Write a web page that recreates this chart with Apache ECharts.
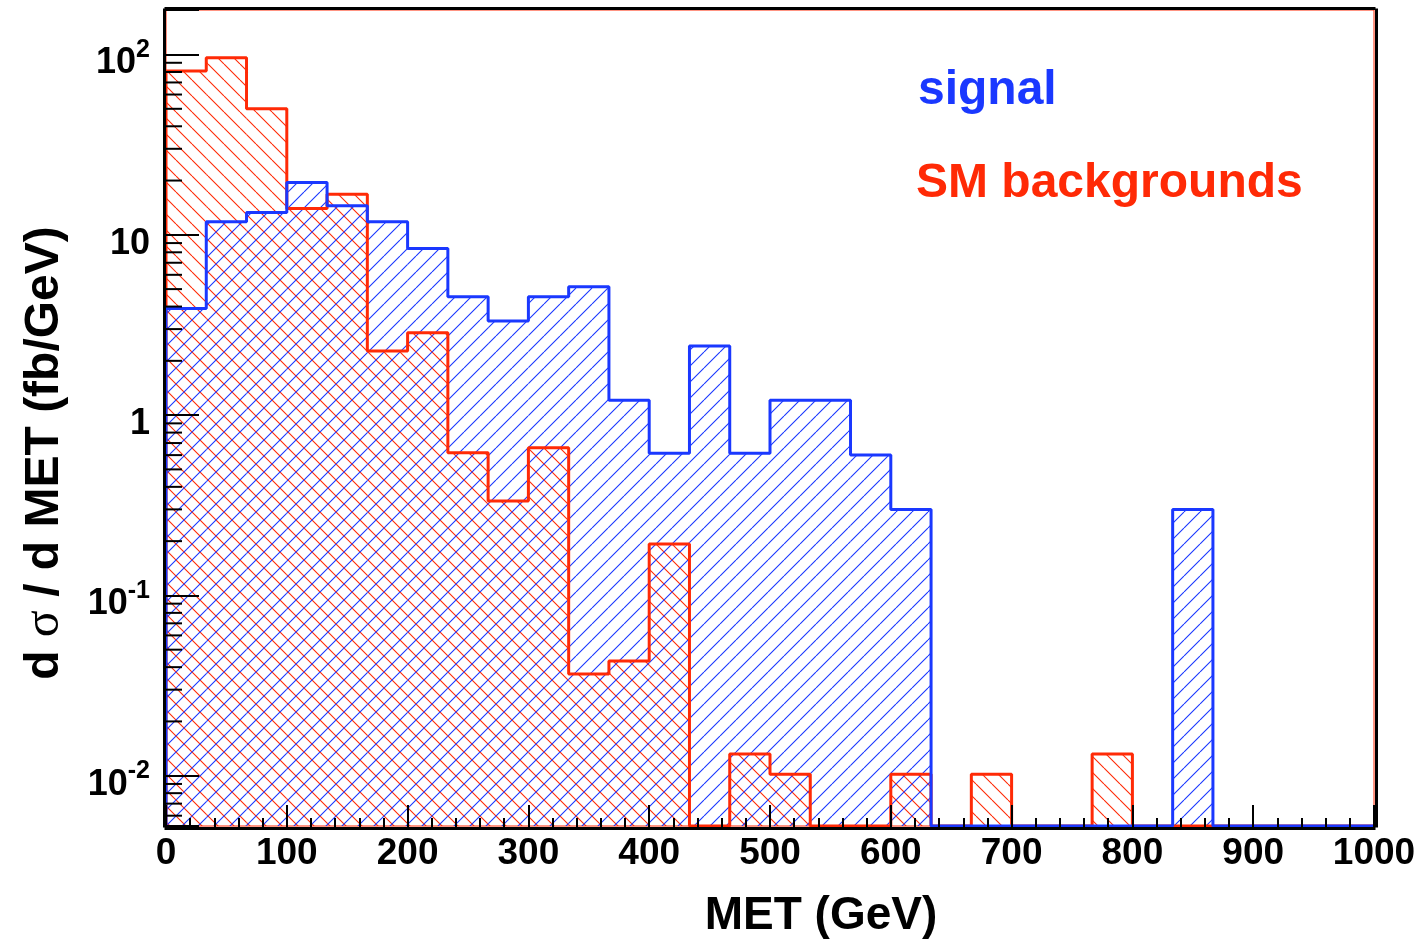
<!DOCTYPE html>
<html>
<head>
<meta charset="utf-8">
<script src="https://cdn.jsdelivr.net/npm/echarts@6/dist/echarts.min.js"></script>
<style>
  html, body { margin: 0; padding: 0; background: #fff; }
  #main { width: 1425px; height: 941px; }
</style>
</head>
<body>
<div id="main"></div>
<script>
// 30 bins of 33.3 GeV between 0 and 1000 GeV, values in fb/GeV (0 = empty bin)
const xMin = 0, xMax = 1000, nBins = 30;
const signal = [3.9, 11.8, 13.3, 19.5, 14.5, 11.8, 8.4, 4.54, 3.33, 4.54,
                5.15, 1.21, 0.614, 2.42, 0.614, 1.21, 1.21, 0.60, 0.30, 0,
                0, 0, 0, 0, 0, 0.30, 0, 0, 0, 0];
const background = [81, 96, 50, 14.0, 16.8, 2.27, 2.86, 0.618, 0.334, 0.66,
                    0.0366, 0.0432, 0.193, 0, 0.0132, 0.0102, 0, 0, 0.0102, 0,
                    0.0102, 0, 0, 0.0132, 0, 0, 0, 0, 0, 0];
const yMin = 0.00526, yMax = 176.6;
const minorMultipliers = [2, 3, 4, 5, 6, 7, 8, 9];
const decades = [0.001, 0.01, 0.1, 1, 10, 100];

const BLUE = '#1a38ff';
const RED = '#ff2a06';
const FONT = '"Liberation Sans", Arial, Helvetica, sans-serif';
const binW = (xMax - xMin) / nBins;

function hatch(color, dir) {
  const s = 16;
  const c = document.createElement('canvas');
  c.width = s; c.height = s;
  const ctx = c.getContext('2d');
  ctx.strokeStyle = color;
  ctx.lineWidth = 1.1;
  ctx.beginPath();
  [-s, 0, s].forEach(o => {
    if (dir > 0) { ctx.moveTo(o, s); ctx.lineTo(o + s, 0); }
    else { ctx.moveTo(o, 0); ctx.lineTo(o + s, s); }
  });
  ctx.stroke();
  return c;
}

function fillSeries(name, values, color, dir) {
  const pattern = { image: hatch(color, dir), repeat: 'repeat' };
  return {
    name: name,
    type: 'custom',
    z: 2,
    silent: true,
    data: values.map((v, i) => [xMin + i * binW, xMin + (i + 1) * binW, v]).filter(d => d[2] > 0),
    encode: { x: [0, 1], y: 2 },
    renderItem: (params, api) => {
      const p0 = api.coord([api.value(0), api.value(2)]);
      const p1 = api.coord([api.value(1), yMin]);
      return {
        type: 'rect',
        shape: { x: p0[0], y: p0[1], width: p1[0] - p0[0], height: p1[1] - p0[1] },
        style: { fill: pattern }
      };
    }
  };
}

function outlineSeries(name, values, color) {
  const pts = [[xMin, yMin]];
  values.forEach((v, i) => {
    const y = v > 0 ? v : yMin;
    pts.push([xMin + i * binW, y], [xMin + (i + 1) * binW, y]);
  });
  pts.push([xMax, yMin]);
  return {
    name: name,
    type: 'line',
    z: 4,
    data: pts,
    showSymbol: false,
    symbol: 'none',
    lineStyle: { color: color, width: 3 },
    silent: true
  };
}

const minorY = [];
decades.forEach(d => minorMultipliers.forEach(m => {
  const v = d * m;
  if (v > yMin && v < yMax) minorY.push(v);
}));

const chart = echarts.init(document.getElementById('main'));
chart.setOption({
  animation: false,
  backgroundColor: '#fff',
  grid: { left: 166, right: 51, top: 10, bottom: 115, outerBoundsMode: 'none', containLabel: false,
          show: true, borderColor: RED, borderWidth: 1, backgroundColor: 'transparent' },
  xAxis: [{
    type: 'value', min: xMin, max: xMax, interval: 100, position: 'bottom', offset: 2, z: 10,
    axisLine: { lineStyle: { color: '#000', width: 3, cap: 'square' } },
    axisTick: { inside: true, length: 23, lineStyle: { color: '#000', width: 2 } },
    minorTick: { show: true, splitNumber: 5, length: 10, lineStyle: { color: '#000', width: 2 } },
    splitLine: { show: false },
    axisLabel: { color: '#000', fontFamily: FONT, fontWeight: 'bold', fontSize: 37, margin: 7,
                 formatter: v => String(v) },
    name: 'MET (GeV)', nameLocation: 'middle', nameGap: 65,
    nameTextStyle: { color: '#000', fontFamily: FONT, fontWeight: 'bold', fontSize: 46, padding: [0, 0, 0, 102] }
  }, {
    type: 'value', min: xMin, max: xMax, position: 'top', offset: 2, z: 10,
    axisLine: { lineStyle: { color: '#000', width: 3, cap: 'square' } },
    axisTick: { show: false }, axisLabel: { show: false }, splitLine: { show: false }
  }],
  yAxis: [{
    type: 'log', logBase: 10, min: yMin, max: yMax, position: 'left', offset: 2, z: 10,
    axisLine: { show: true, onZero: false, lineStyle: { color: '#000', width: 3, cap: 'square' } },
    axisTick: { inside: true, length: 35, lineStyle: { color: '#000', width: 2 } },
    splitLine: { show: false },
    axisLabel: {
      margin: 14,
      padding: [10, 0, 0, 0],
      formatter: v => {
        const l = Math.log10(v), e = Math.round(l);
        if (Math.abs(l - e) > 1e-6) return '';
        if (e === 0) return '{n|1}';
        if (e === 1) return '{n|10}';
        return '{n|10}{s|' + e + '}';
      },
      rich: {
        n: { color: '#000', fontFamily: FONT, fontWeight: 'bold', fontSize: 36, lineHeight: 44, verticalAlign: 'bottom' },
        s: { color: '#000', fontFamily: FONT, fontWeight: 'bold', fontSize: 25, verticalAlign: 'top' }
      }
    },
    name: '{b|d }{g|σ}{b| / d MET (fb/GeV)}', nameLocation: 'middle', nameRotate: 90, nameGap: 94,
    nameTextStyle: {
      padding: [0, 70, 0, 0],
      rich: {
        b: { color: '#000', fontFamily: FONT, fontWeight: 'bold', fontSize: 48 },
        g: { color: '#000', fontFamily: '"Liberation Serif", "DejaVu Serif", serif', fontSize: 50 }
      }
    }
  }, {
    type: 'log', logBase: 10, min: yMin, max: yMax, position: 'right', offset: 2, z: 10,
    axisLine: { show: true, onZero: false, lineStyle: { color: '#000', width: 3, cap: 'square' } },
    axisTick: { show: false }, axisLabel: { show: false }, splitLine: { show: false }
  }],
  graphic: [
    { type: 'text', left: 918, top: 67, z: 20,
      style: { text: 'signal', fill: BLUE, font: 'bold 48px ' + FONT } },
    { type: 'text', left: 916, top: 160, z: 20,
      style: { text: 'SM backgrounds', fill: RED, font: 'bold 48px ' + FONT } }
  ],
  series: [
    fillSeries('SM backgrounds', background, RED, -1),
    fillSeries('signal', signal, BLUE, 1),
    outlineSeries('SM backgrounds', background, RED),
    outlineSeries('signal', signal, BLUE),
    {
      name: 'minor ticks',
      type: 'custom',
      z: 11,
      silent: true,
      clip: false,
      data: minorY.map(v => [xMin, v]),
      encode: { x: 0, y: 1 },
      renderItem: (params, api) => {
        const p = api.coord([api.value(0), api.value(1)]);
        return {
          type: 'line',
          shape: { x1: p[0] - 1, y1: p[1], x2: p[0] + 16, y2: p[1] },
          style: { stroke: '#000', lineWidth: 2 }
        };
      }
    }
  ]
});
</script>
</body>
</html>
